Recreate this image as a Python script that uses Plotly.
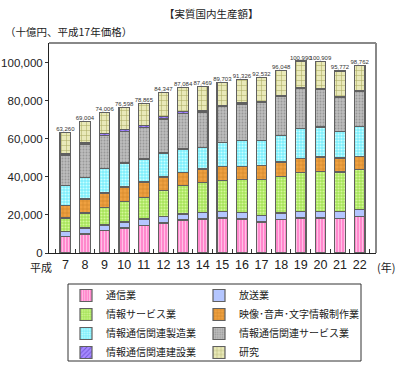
import plotly.graph_objects as go

years = ["7", "8", "9", "10", "11", "12", "13", "14", "15", "16", "17", "18", "19", "20", "21", "22"]
tick_labels = ["7", "8", "9", "10", "11", "12", "13", "14", "15", "16", "17", "18", "19", "20", "21", "22"]

tsushin = [8800, 10000, 11900, 13200, 14600, 15800, 17400, 17900, 18400, 17900, 16300, 17500, 18400, 18400, 18100, 19300]
hoso = [2600, 3200, 2800, 3100, 3300, 3500, 3100, 3500, 3500, 3500, 3500, 3600, 3500, 3500, 3800, 3500]
joho_service = [7000, 7900, 9300, 10900, 11400, 13500, 14900, 15800, 16300, 17200, 18800, 19300, 20600, 21100, 20700, 21100]
eizo = [6700, 7300, 7600, 7500, 8100, 7200, 7100, 7000, 7400, 7000, 7400, 7500, 7300, 7500, 7400, 7000]
seizo = [10500, 11400, 13000, 12700, 12100, 12600, 12200, 11400, 12600, 13500, 13300, 14000, 15600, 15800, 13900, 15800]
kanren_service = [16000, 17600, 17200, 16600, 16600, 17900, 18600, 18600, 19000, 19300, 20000, 20600, 21100, 19700, 18000, 18400]
kensetsu = [900, 500, 1000, 900, 1100, 1400, 1300, 900, 300, 500, 500, 300, 300, 300, 400, 300]
kenkyu = [10760, 11104, 11206, 11698, 11665, 12447, 12484, 12369, 12203, 12426, 12732, 13248, 14190, 14609, 13472, 13362]

totals = [63260, 69004, 74006, 76598, 78865, 84347, 87084, 87469, 89703, 91326, 92532, 96048, 100990, 100909, 95772, 98762]
total_labels = ["63,260", "69,004", "74,006", "76,598", "78,865", "84,347", "87,084", "87,469",
                "89,703", "91,326", "92,532", "96,048", "100,990", "100,909", "95,772", "98,762"]

series_names = ["通信業", "放送業", "情報サービス業", "映像･音声･文字情報制作業",
                "情報通信関連製造業", "情報通信関連サービス業", "情報通信関連建設業", "研究"]
series_values = [tsushin, hoso, joho_service, eizo, seizo, kanren_service, kensetsu, kenkyu]
legend_column = ["legend", "legend2", "legend", "legend2", "legend", "legend2", "legend", "legend2"]

styles = [
    dict(bg="#ff88cc", fg="#ffc0e6", shape="|", size=3, sol=0.35),
    dict(bg="#b4c6ff", fg="#b4c6ff", shape="", size=4, sol=0.3),
    dict(bg="#a6e45a", fg="#d6f79a", shape=".", size=3, sol=0.4),
    dict(bg="#eea040", fg="#c47a22", shape="+", size=4, sol=0.2),
    dict(bg="#7eeefc", fg="#c8ffff", shape=".", size=3, sol=0.4),
    dict(bg="#bdbdbd", fg="#989898", shape=".", size=3, sol=0.3),
    dict(bg="#a68aff", fg="#7456d8", shape="/", size=4, sol=0.3),
    dict(bg="#e9e9b9", fg="#a9a962", shape="+", size=5, sol=0.2),
]

LAT = "Liberation Sans, Noto Sans CJK JP"
CJK = "Noto Sans CJK JP, Liberation Sans"

fig = go.Figure()
for name, vals, st, lg in zip(series_names, series_values, styles, legend_column):
    fig.add_trace(go.Bar(
        x=years, y=vals, name=name, legend=lg,
        marker=dict(color=st["bg"],
                    line=dict(color="#606060", width=1.2),
                    pattern=dict(shape=st["shape"], fgcolor=st["fg"], bgcolor=st["bg"],
                                 size=st["size"], solidity=st["sol"], fillmode="replace")),
        hoverinfo="skip",
    ))

fig.add_trace(go.Scatter(
    x=years, y=totals, mode="text", text=total_labels, textposition="top center",
    textfont=dict(family="Liberation Sans", size=6, color="#333333"),
    showlegend=False, hoverinfo="skip",
))

legend_common = dict(orientation="v", xanchor="left", y=(253 - 281) / 210, yanchor="top",
                     borderwidth=0, bgcolor="rgba(0,0,0,0)",
                     font=dict(family=CJK, size=10, color="#222222"),
                     traceorder="normal", itemclick=False, itemdoubleclick=False)

fig.update_layout(
    width=401, height=366,
    margin=dict(l=49, r=25, t=43, b=113, autoexpand=False),
    barmode="stack", bargap=0.46,
    plot_bgcolor="white", paper_bgcolor="white",
    font=dict(family=CJK, size=10, color="#222222"),
    showlegend=True,
    legend=dict(x=(66 - 49) / 327, **legend_common),
    legend2=dict(x=(199 - 49) / 327, **legend_common),
    xaxis=dict(type="category", tickvals=years, ticktext=tick_labels, tickangle=0, automargin=False,
               tickson="boundaries", ticks="inside", ticklen=4, tickcolor="#333333",
               showline=True, linecolor="#222222", linewidth=1,
               tickfont=dict(family=LAT, size=12.5, color="#222222"), showgrid=False),
    yaxis=dict(range=[0, 110500], tickvals=[0, 20000, 40000, 60000, 80000, 100000],
               ticktext=["0", "20,000", "40,000", "60,000", "80,000", "100,000"], automargin=False,
               ticks="outside", ticklen=3, tickcolor="#333333",
               showline=True, linecolor="#222222", linewidth=1, showgrid=False, zeroline=False,
               tickfont=dict(family=LAT, size=11.5, color="#222222")),
    annotations=[
        dict(text="【実質国内生産額】", xref="paper", yref="paper", x=(211 - 49) / 327, y=1 + (43 - 13) / 210,
             xanchor="center", yanchor="middle", showarrow=False, font=dict(family=CJK, size=10.5)),
        dict(text="（十億円、平成17年価格）", xref="paper", yref="paper", x=(3 - 49) / 327, y=1 + (43 - 32) / 210,
             xanchor="left", yanchor="middle", showarrow=False, font=dict(family=CJK, size=10.5)),
        dict(text="平成", xref="paper", yref="paper", x=(54 - 49) / 327, y=(253 - 267) / 210,
             xanchor="right", yanchor="middle", showarrow=False, font=dict(family=CJK, size=11)),
        dict(text="(年)", xref="paper", yref="paper", x=(386 - 49) / 327, y=(253 - 267) / 210,
             xanchor="center", yanchor="middle", showarrow=False, font=dict(family=CJK, size=11)),
    ],
    shapes=[
        dict(type="line", xref="paper", yref="paper", x0=0, x1=1, y0=1, y1=1,
             line=dict(color="#888888", width=2)),
        dict(type="line", xref="paper", yref="paper", x0=1, x1=1, y0=0, y1=1,
             line=dict(color="#888888", width=2)),
        dict(type="rect", xref="paper", yref="paper",
             x0=(68 - 49) / 327, x1=(361 - 49) / 327, y0=(253 - 284) / 210, y1=(253 - 361) / 210,
             line=dict(color="#333333", width=1)),
    ],
)

fig.write_html("out.html", config={"displayModeBar": False},
               post_script="document.body.style.margin='0';")
